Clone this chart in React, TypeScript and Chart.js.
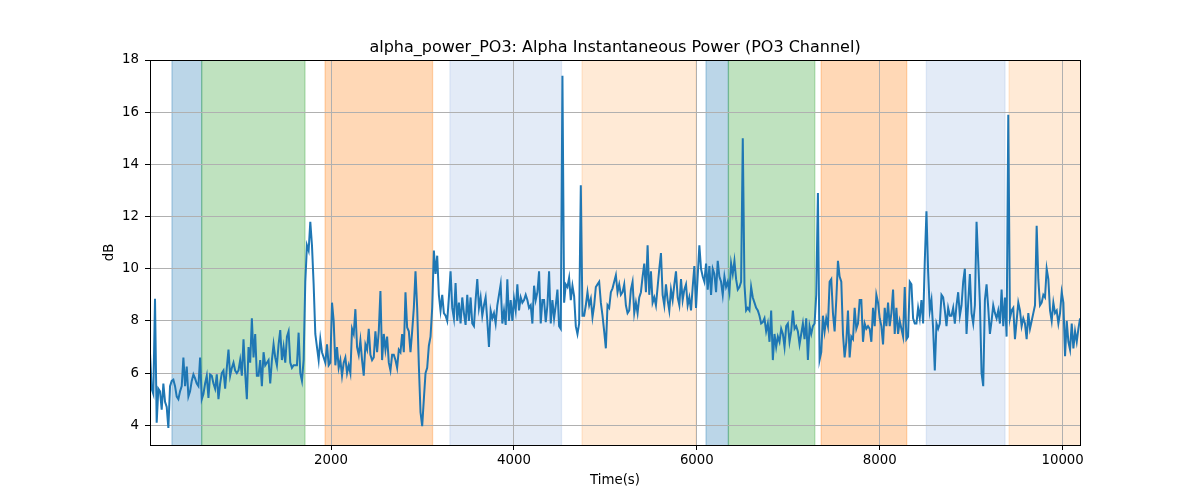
import React, { useEffect, useRef } from "react";
import { Chart, registerables } from "chart.js";

Chart.register(...registerables);

const TITLE = "alpha_power_PO3: Alpha Instantaneous Power (PO3 Channel)";
const X_LABEL = "Time(s)";
const Y_LABEL = "dB";

const TIME_START = 20;
const TIME_STEP = 18.26;
const X_MIN = 20;
const X_MAX = 10190;
const Y_MIN = 3.245;
const Y_MAX = 18;
const X_TICKS = [2000, 4000, 6000, 8000, 10000];
const Y_TICKS = [4, 6, 8, 10, 12, 14, 16, 18];

const POWER_DB = [
  6.77, 5.4, 5.2, 8.85, 4.1, 5.4, 5.3, 4.6, 5.6, 4.9,
  4.7, 3.9, 5.5, 5.7, 5.75, 5.5, 5.1, 5.0, 5.3, 5.5,
  6.6, 5.5, 6.25, 5.1, 5.3, 5.7, 5.95, 5.8, 5.6, 5.5,
  6.6, 5.0, 5.2, 5.6, 5.9, 5.05, 5.95, 5.9, 5.6, 5.4,
  5.95, 5.0, 5.6, 6.0, 6.1, 5.4, 6.2, 6.9, 5.9, 6.2,
  6.4, 6.1, 6.0, 6.1, 6.5, 5.9, 7.3, 6.0, 5.0, 7.0,
  6.4, 8.1, 6.6, 7.5, 5.9, 5.9, 6.5, 5.5, 6.8, 6.3,
  6.4, 6.5, 5.6, 6.5, 7.1, 6.6, 6.3, 7.1, 7.65, 6.5,
  7.0, 6.4, 7.4, 7.6, 6.4, 6.2, 6.3, 6.3, 6.3, 7.55,
  6.0, 5.7,
  6.5, 9.5, 10.9, 10.7, 11.8, 10.9, 9.4, 7.5, 7.0, 6.5,
  7.3, 6.8, 6.6, 6.4, 7.1, 6.3, 6.4, 8.7, 8.0, 6.3,
  7.0, 6.2, 6.5, 5.9, 6.4, 6.6, 6.0, 6.3, 6.0, 7.7,
  7.5, 8.45, 7.0, 6.7, 7.25, 6.5, 5.9, 7.1, 6.9, 7.7,
  6.7, 6.5, 6.6, 7.6, 6.8, 7.6, 9.15, 6.5, 7.5, 6.9,
  7.4, 6.4, 6.1, 6.7, 6.7, 6.5, 6.2, 6.9, 6.8, 7.5,
  6.8, 9.1, 7.75, 7.6, 6.8, 7.6, 8.5, 9.9, 8.5, 6.3,
  4.5, 3.97, 5.0, 6.0, 6.2, 7.05, 7.4, 8.5, 10.7, 9.8,
  10.5, 9.0, 8.4, 9.0, 8.3, 8.2, 8.0, 8.9, 9.9, 8.5,
  8.1,
  9.45, 8.0, 8.7, 7.9, 8.9, 8.3, 7.85, 9.0, 8.0, 8.9,
  7.9, 7.8, 8.8, 9.6, 8.5, 8.9, 8.2, 8.6, 8.9, 8.0,
  7.0, 8.4, 8.1, 8.3, 7.9, 8.6, 9.0, 9.4, 7.9, 8.4,
  7.85, 9.6, 8.0, 8.8, 8.0, 8.85, 8.4, 9.4, 8.4, 8.9,
  8.7, 8.8, 9.0, 8.8, 8.5, 8.6, 7.9, 9.35, 8.8, 9.1,
  9.9, 7.9, 8.8, 8.8, 7.95, 8.6, 9.9, 7.9, 8.8, 8.1,
  8.6, 9.2, 7.8, 7.7, 17.4, 8.7, 9.4, 9.3, 9.65, 8.8,
  9.35, 8.95, 7.8, 7.5, 7.9, 13.2, 8.2, 8.2, 8.6, 9.1,
  8.6, 8.85, 8.15, 8.6, 9.3, 9.4, 9.5, 8.7, 8.2, 7.6,
  6.95, 8.6, 8.5, 9.1, 9.25, 9.5, 9.75, 9.1, 9.4, 9.0,
  9.1, 9.4,
  8.6, 8.3, 8.4, 9.2, 9.5, 8.3, 8.7, 8.3, 8.9, 9.1,
  9.7, 10.2, 9.1, 10.9, 9.0, 9.9, 8.7, 8.9, 8.6, 9.3,
  10.0, 10.6, 9.0, 8.6, 9.4, 8.8, 8.4, 9.2, 8.8, 9.4,
  9.9, 8.9, 8.6, 9.6, 8.8, 9.2, 9.4, 8.6, 8.9, 8.4,
  9.3, 10.1, 8.5, 9.7, 10.9, 10.0, 9.7, 9.5, 10.2, 9.2,
  10.1, 9.0, 10.0, 9.8, 9.1, 10.3, 9.7, 9.5, 9.0, 9.7,
  9.3, 9.5, 9.1, 10.2, 9.8, 10.3, 9.6, 9.2, 9.3, 9.5,
  15.0, 9.4, 8.4, 8.5, 8.4, 9.3, 8.9, 8.7, 8.5, 8.4,
  8.2, 7.9, 7.95, 8.1, 7.6, 7.9, 7.2, 8.4, 6.5, 7.5,
  7.0, 7.4,
  7.2, 7.7, 7.5, 7.0, 7.8, 7.9, 7.2, 7.6, 8.4, 7.7,
  7.8, 7.6, 7.1, 7.5, 7.9, 7.3, 8.1, 6.5, 7.8, 7.5,
  7.8, 7.9, 9.0, 12.9, 6.5, 6.8, 8.2, 7.6, 8.1, 7.8,
  9.5, 9.6, 8.3, 7.6, 8.8, 10.3, 9.7, 9.5, 7.5, 6.6,
  7.2, 8.4, 6.6, 7.4, 7.3, 8.5, 7.7, 7.9, 8.8, 8.8,
  7.2, 7.9, 7.7, 7.8, 7.7, 7.2, 8.5, 7.8, 9.0, 8.7,
  8.1, 7.8, 7.1, 8.5, 7.8, 8.7, 7.8, 8.3, 9.2, 7.5,
  8.5, 7.5, 8.0, 7.7, 7.4, 9.3, 7.3, 7.4, 9.5, 9.4,
  8.1, 7.9, 7.9, 8.5, 8.1, 8.8, 7.9, 10.3, 12.2, 9.9,
  8.4, 8.8, 7.7,
  6.1, 7.9, 7.7, 7.9, 9.0, 8.9, 8.4, 7.8, 8.5, 8.2,
  8.2, 8.5, 7.9, 8.6, 9.1, 8.2, 8.6, 9.5, 10.0, 7.5,
  8.7, 9.8, 8.3, 7.9, 8.6, 11.8, 10.3, 8.7, 6.0, 5.5,
  8.8, 9.4, 8.5, 7.5, 8.0, 8.6, 8.3, 8.1, 8.4, 7.9,
  9.2, 7.8, 8.9, 7.4, 15.9, 8.1, 8.4, 8.5, 7.3, 8.0,
  8.7, 8.4, 7.8, 8.1, 7.9, 7.3, 8.3, 7.7, 8.0, 8.3,
  8.6, 11.65, 9.6, 8.6, 8.7, 9.0, 8.9, 10.0, 9.6, 8.4,
  8.0, 8.7, 8.3, 8.4, 7.9, 8.3, 9.1, 8.7, 6.65, 8.0,
  7.2, 6.9, 7.9, 6.95, 7.6, 7.2, 7.7, 8.1,
];

const REGION_START = [260, 585, 1935, 3300, 4745, 6100, 6345, 7360, 8510, 9415];
const REGION_END = [585, 1715, 3110, 4520, 5990, 6345, 7290, 8295, 9370, 10300];
const REGION_COLOR = [
  "rgba(31,119,180,0.3)",
  "rgba(44,160,44,0.3)",
  "rgba(255,127,14,0.3)",
  "rgba(174,199,232,0.35)",
  "rgba(255,187,120,0.3)",
  "rgba(31,119,180,0.3)",
  "rgba(44,160,44,0.3)",
  "rgba(255,127,14,0.3)",
  "rgba(174,199,232,0.35)",
  "rgba(255,187,120,0.3)",
];

const FONT = '"DejaVu Sans", "Liberation Sans", sans-serif';

const regionPlugin = {
  id: "regions",
  beforeDraw(chart: any) {
    const { ctx, chartArea } = chart;
    const xs = chart.scales.x;
    ctx.save();
    ctx.beginPath();
    ctx.rect(chartArea.left, chartArea.top, chartArea.right - chartArea.left, chartArea.bottom - chartArea.top);
    ctx.clip();
    for (let i = 0; i < REGION_START.length; i++) {
      const x1 = xs.getPixelForValue(REGION_START[i]);
      const x2 = xs.getPixelForValue(REGION_END[i]);
      ctx.fillStyle = REGION_COLOR[i];
      ctx.fillRect(x1, chartArea.top, x2 - x1, chartArea.bottom - chartArea.top);
      ctx.strokeStyle = REGION_COLOR[i];
      ctx.lineWidth = 1.3;
      ctx.beginPath();
      ctx.moveTo(x1, chartArea.top);
      ctx.lineTo(x1, chartArea.bottom);
      ctx.moveTo(x2, chartArea.top);
      ctx.lineTo(x2, chartArea.bottom);
      ctx.stroke();
    }
    ctx.restore();
  },
};

const framePlugin = {
  id: "frame",
  afterDraw(chart: any) {
    const { ctx, chartArea } = chart;
    ctx.save();
    ctx.strokeStyle = "#000";
    ctx.lineWidth = 1;
    ctx.strokeRect(
      Math.round(chartArea.left) + 0.5,
      Math.round(chartArea.top) + 0.5,
      Math.round(chartArea.right - chartArea.left),
      Math.round(chartArea.bottom - chartArea.top)
    );
    ctx.fillStyle = "#000";
    ctx.font = `16px ${FONT}`;
    ctx.textAlign = "center";
    ctx.textBaseline = "alphabetic";
    ctx.fillText(TITLE, (chartArea.left + chartArea.right) / 2, 52);
    ctx.restore();
  },
};

export default function App() {
  const ref = useRef<HTMLCanvasElement | null>(null);

  useEffect(() => {
    if (!ref.current) return;
    const points = POWER_DB.map((v, i) => ({ x: TIME_START + i * TIME_STEP, y: v }));
    const chart = new Chart(ref.current, {
      type: "line",
      data: {
        datasets: [
          {
            data: points,
            borderColor: "#1f77b4",
            borderWidth: 2,
            pointRadius: 0,
            tension: 0,
            fill: false,
          },
        ],
      },
      options: {
        animation: false,
        responsive: false,
        devicePixelRatio: 1,
        layout: { padding: { left: 0, right: 120, top: 60, bottom: 0 } },
        plugins: {
          legend: { display: false },
          tooltip: { enabled: false },
          title: { display: false },
        },
        scales: {
          x: {
            type: "linear",
            min: X_MIN,
            max: X_MAX,
            afterBuildTicks: (scale: any) => {
              scale.ticks = X_TICKS.map((v) => ({ value: v }));
            },
            afterFit: (scale: any) => {
              scale.height = 55;
            },
            ticks: {
              color: "#000",
              font: { family: FONT, size: 13.33 },
              padding: 3,
              maxRotation: 0,
              autoSkip: false,
              callback: (v: any) => String(v),
            },
            grid: {
              color: "#b0b0b0",
              lineWidth: 1,
              tickColor: "#000",
              tickLength: 5,
              drawTicks: true,
            },
            border: { display: false },
            title: {
              display: true,
              text: X_LABEL,
              color: "#000",
              font: { family: FONT, size: 13.33 },
              padding: { top: 0, bottom: 11 },
            },
          },
          y: {
            type: "linear",
            min: Y_MIN,
            max: Y_MAX,
            afterBuildTicks: (scale: any) => {
              scale.ticks = Y_TICKS.map((v) => ({ value: v }));
            },
            afterFit: (scale: any) => {
              scale.width = 150;
            },
            ticks: {
              color: "#000",
              font: { family: FONT, size: 13.33 },
              padding: 6,
              autoSkip: false,
              callback: (v: any) => String(v),
            },
            grid: {
              color: "#b0b0b0",
              lineWidth: 1,
              tickColor: "#000",
              tickLength: 5,
              drawTicks: true,
            },
            border: { display: false },
            title: {
              display: true,
              text: Y_LABEL,
              color: "#000",
              font: { family: FONT, size: 13.33 },
              padding: { top: 102, bottom: 0 },
            },
          },
        },
      },
      plugins: [regionPlugin, framePlugin],
    });
    return () => chart.destroy();
  }, []);

  return (
    <div style={{ position: "fixed", left: 0, top: 0, width: 1200, height: 500, background: "#fff" }}>
      <canvas ref={ref} width={1200} height={500} style={{ width: 1200, height: 500 }} />
    </div>
  );
}
